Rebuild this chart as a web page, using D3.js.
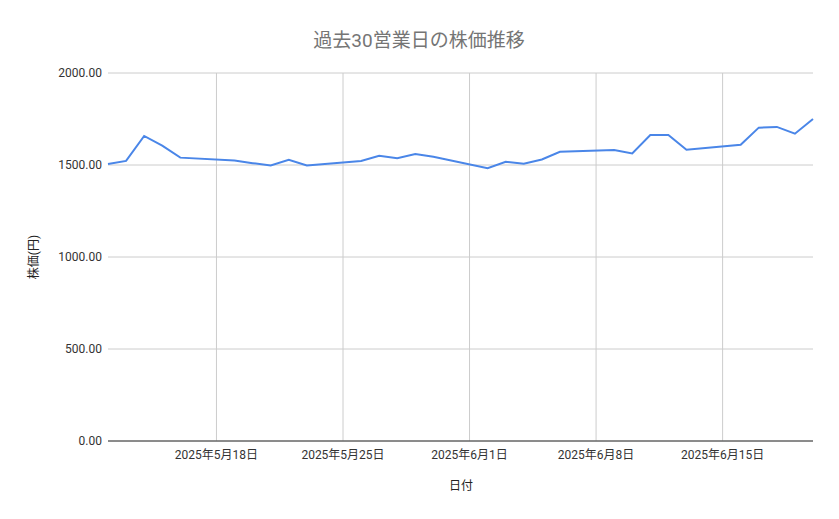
<!DOCTYPE html>
<html><head><meta charset="utf-8">
<script src="https://cdn.jsdelivr.net/npm/d3@7"></script>
<style>body{margin:0;background:#fff;font-family:Roboto,"Noto Sans CJK JP",sans-serif}</style>
</head><body><svg id="c" width="839" height="519"></svg>
<script>
const dates=["2025-05-12","2025-05-13","2025-05-14","2025-05-15","2025-05-16",
"2025-05-19","2025-05-20","2025-05-21","2025-05-22","2025-05-23",
"2025-05-26","2025-05-27","2025-05-28","2025-05-29","2025-05-30",
"2025-06-02","2025-06-03","2025-06-04","2025-06-05","2025-06-06",
"2025-06-09","2025-06-10","2025-06-11","2025-06-12","2025-06-13",
"2025-06-16","2025-06-17","2025-06-18","2025-06-19","2025-06-20"];
const prices=[1505,1522,1658,1605,1540,1525,1510,1497,1528,1497,1522,1550,1537,1560,1545,1482,1518,1507,1530,1572,1582,1563,1663,1663,1583,1610,1703,1707,1670,1750];
const tickDates=["2025-05-18","2025-05-25","2025-06-01","2025-06-08","2025-06-15"];
const yTicks=[0,500,1000,1500,2000];
const title="過去30営業日の株価推移", xLabel="日付", yLabel="株価(円)";

const p=d3.timeParse("%Y-%m-%d");
const svg=d3.select("#c");
const L=108,R=813,T=73,B=441;
const x=d3.scaleTime().domain([p("2025-05-12"),p("2025-06-20")]).range([L,R]);
const y=d3.scaleLinear().domain([0,2000]).range([B,T]);
svg.append("g").selectAll("line").data(yTicks).join("line")
 .attr("x1",L).attr("x2",R).attr("y1",d=>y(d)).attr("y2",d=>y(d)).attr("stroke","#ccc");
svg.append("g").selectAll("line").data(tickDates).join("line")
 .attr("x1",d=>x(p(d))).attr("x2",d=>x(p(d))).attr("y1",T).attr("y2",B).attr("stroke","#ccc");
svg.append("line").attr("x1",L).attr("x2",R).attr("y1",B).attr("y2",B).attr("stroke","#333");
svg.append("g").selectAll("text").data(yTicks).join("text")
 .attr("x",L-6).attr("y",d=>y(d)+4).attr("text-anchor","end").attr("font-size",12).attr("fill","#333")
 .text(d=>d3.format(".2f")(d));
svg.append("g").selectAll("text").data(tickDates).join("text")
 .attr("x",d=>x(p(d))).attr("y",B+18).attr("text-anchor","middle").attr("font-size",12).attr("fill","#333")
 .text(d=>{const t=p(d);return `${t.getFullYear()}年${t.getMonth()+1}月${t.getDate()}日`;});
const line=d3.line().x((d,i)=>x(p(dates[i]))).y(d=>y(d));
svg.append("path").datum(prices).attr("d",line).attr("fill","none").attr("stroke","#4a86e8").attr("stroke-width",2);
svg.append("text").attr("x",419).attr("y",47).attr("text-anchor","middle").attr("font-size",19).attr("fill","#757575").text(title);
svg.append("text").attr("x",461).attr("y",490).attr("text-anchor","middle").attr("font-size",12).attr("fill","#222").text(xLabel);
svg.append("text").attr("transform","translate(38,257) rotate(-90)").attr("text-anchor","middle").attr("font-size",12).attr("fill","#222").text(yLabel);
</script></body></html>
